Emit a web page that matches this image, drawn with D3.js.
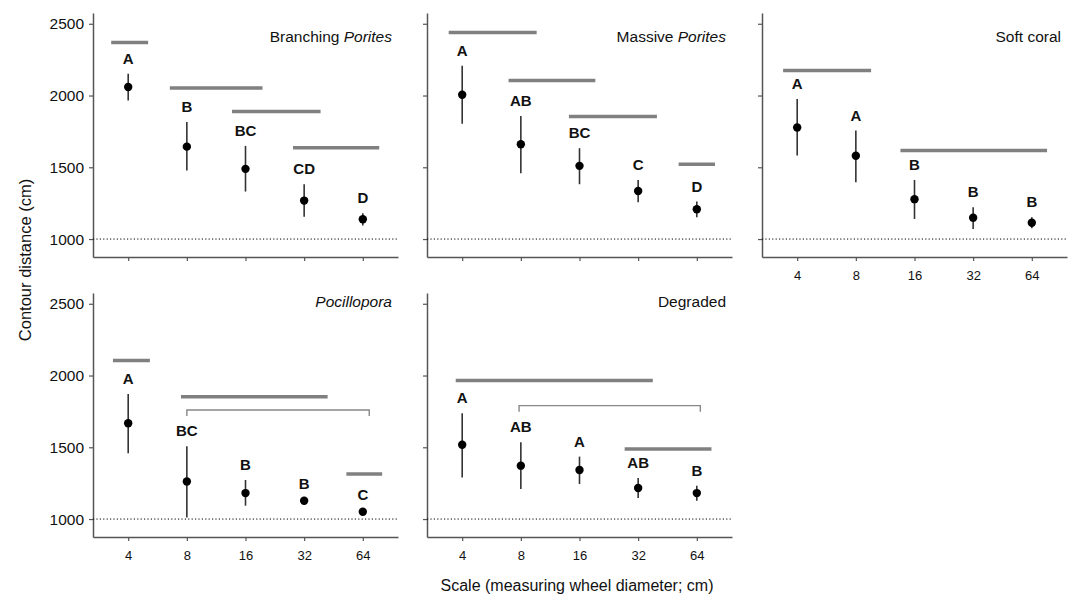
<!DOCTYPE html>
<html>
<head>
<meta charset="utf-8">
<script src="https://cdn.jsdelivr.net/npm/d3@7"></script>
<style>
  body { margin: 0; background: #fff; }
  svg { display: block; font-family: "Liberation Sans", Arial, sans-serif; }
</style>
</head>
<body>
<svg id="svg"></svg>
<script>
// scale categories (measuring wheel diameter)
let scaleLabels = ['4', '8', '16', '32', '64']
let yTicks = [1000, 1500, 2000, 2500]

// Branching Porites
let branchingMean = [2059, 1644, 1489, 1268, 1138]
let branchingLow = [1965, 1477, 1331, 1156, 1094]
let branchingHigh = [2151, 1815, 1649, 1382, 1180]
let branchingLetters = ['A', 'B', 'BC', 'CD', 'D']
let branchingBars = [[-0.29, 0.34, 2370], [0.71, 2.29, 2052], [1.77, 3.28, 1889], [2.81, 4.28, 1637]]

// Massive Porites
let massiveMean = [2005, 1661, 1510, 1335, 1208]
let massiveLow = [1803, 1459, 1382, 1257, 1152]
let massiveHigh = [2207, 1858, 1633, 1412, 1261]
let massiveLetters = ['A', 'AB', 'BC', 'C', 'D']
let massiveBars = [[-0.23, 1.27, 2440], [0.79, 2.27, 2105], [1.82, 3.32, 1854], [3.69, 4.31, 1522]]

// Soft coral
let softMean = [1777, 1580, 1278, 1149, 1114]
let softLow = [1582, 1396, 1140, 1070, 1075]
let softHigh = [1975, 1756, 1412, 1222, 1152]
let softLetters = ['A', 'A', 'B', 'B', 'B']
let softBars = [[-0.24, 1.26, 2175], [1.76, 4.26, 1617]]

// Pocillopora
let pociMean = [1667, 1262, 1181, 1128, 1051]
let pociLow = [1458, 1011, 1093, 1113, 1036]
let pociHigh = [1872, 1507, 1272, 1143, 1066]
let pociLetters = ['A', 'BC', 'B', 'B', 'C']
let pociBars = [[-0.26, 0.37, 2105], [0.9, 3.4, 1853], [3.72, 4.33, 1314]]
let pociBrackets = [[1.0, 4.11, 1760]]

// Degraded
let degMean = [1518, 1372, 1342, 1216, 1181]
let degLow = [1290, 1209, 1244, 1147, 1128]
let degHigh = [1737, 1535, 1435, 1286, 1232]
let degLetters = ['A', 'AB', 'A', 'AB', 'B']
let degBars = [[-0.11, 3.25, 1965], [2.77, 4.25, 1488]]
let degBrackets = [[0.97, 4.06, 1790]]

//panel table built from the arrays above
let panels = [
    { title: [['Branching ', false], ['Porites', true]], mean: branchingMean, low: branchingLow, high: branchingHigh, letters: branchingLetters, bars: branchingBars, brackets: [], col: 0, row: 0 },
    { title: [['Massive ', false], ['Porites', true]], mean: massiveMean, low: massiveLow, high: massiveHigh, letters: massiveLetters, bars: massiveBars, brackets: [], col: 1, row: 0 },
    { title: [['Soft coral', false]], mean: softMean, low: softLow, high: softHigh, letters: softLetters, bars: softBars, brackets: [], col: 2, row: 0 },
    { title: [['Pocillopora', true]], mean: pociMean, low: pociLow, high: pociHigh, letters: pociLetters, bars: pociBars, brackets: pociBrackets, col: 0, row: 1 },
    { title: [['Degraded', false]], mean: degMean, low: degLow, high: degHigh, letters: degLetters, bars: degBars, brackets: degBrackets, col: 1, row: 1 }
]

let W = 1077, H = 598
let colX = [93, 427, 762]
let panelW = 305
let rowShift = 280
let axisColor = '#555'

let svg = d3.select('#svg').attr('width', W).attr('height', H)
svg.append('rect').attr('width', W).attr('height', H).attr('fill', '#fff')

panels.forEach(p => {
    let x0 = colX[p.col]
    let off = p.row * rowShift
    let x = d3.scaleLinear().domain([-0.6, 4.6]).range([x0, x0 + panelW])
    let y = d3.scaleLinear().domain([875, 2575]).range([257 + off, 13 + off])
    let g = svg.append('g')
    let showX = p.row === 1 || p.col === 2
    let showY = p.col === 0

    //y axis
    let yAxis = d3.axisLeft(y).tickValues(yTicks).tickSize(4).tickSizeOuter(0).tickPadding(5)
        .tickFormat(d => showY ? d3.format('d')(d) : '')
    let yG = g.append('g').attr('transform', `translate(${x0},0)`).call(yAxis)

    //x axis
    let xAxis = d3.axisBottom(x).tickValues([0, 1, 2, 3, 4]).tickSize(4).tickSizeOuter(0).tickPadding(10)
        .tickFormat(i => showX ? scaleLabels[i] : '')
    let xG = g.append('g').attr('transform', `translate(0,${y.range()[0]})`).call(xAxis)

    ;[xG, yG].forEach(a => {
        a.select('.domain').attr('stroke', axisColor).attr('stroke-width', 1.5)
        a.selectAll('.tick line').attr('stroke', axisColor).attr('stroke-width', 1.2)
        a.selectAll('.tick text').attr('fill', '#111').attr('font-family', '"Liberation Sans", Arial, sans-serif')
    })
    yG.selectAll('.tick text').attr('font-size', 15.5)
    xG.selectAll('.tick text').attr('font-size', 13)

    //dotted reference line at 1000
    g.append('line')
        .attr('x1', x0).attr('x2', x0 + panelW)
        .attr('y1', y(1000)).attr('y2', y(1000))
        .attr('stroke', '#000').attr('stroke-width', 1)
        .attr('stroke-dasharray', '1.2,2.2')

    //homogeneous subset bars
    g.selectAll('.bar').data(p.bars).join('line')
        .attr('x1', d => x(d[0])).attr('x2', d => x(d[1]))
        .attr('y1', d => y(d[2])).attr('y2', d => y(d[2]))
        .attr('stroke', '#808080').attr('stroke-width', 3.5)

    //thin brackets
    g.selectAll('.bracket').data(p.brackets).join('path')
        .attr('d', d => `M${x(d[0])},${y(d[2]) + 6}V${y(d[2])}H${x(d[1])}V${y(d[2]) + 6}`)
        .attr('fill', 'none').attr('stroke', '#888').attr('stroke-width', 1.4)

    //error bars
    g.selectAll('.err').data(p.mean).join('line')
        .attr('x1', (d, i) => x(i)).attr('x2', (d, i) => x(i))
        .attr('y1', (d, i) => y(p.low[i])).attr('y2', (d, i) => y(p.high[i]))
        .attr('stroke', '#333').attr('stroke-width', 1.6)

    //means
    g.selectAll('circle').data(p.mean).join('circle')
        .attr('cx', (d, i) => x(i)).attr('cy', d => y(d))
        .attr('r', 4.2).attr('fill', '#000')

    //letters
    g.selectAll('.letter').data(p.letters).join('text')
        .attr('x', (d, i) => x(i)).attr('y', (d, i) => y(p.high[i]) - 10)
        .attr('text-anchor', 'middle').attr('font-size', 15).attr('font-weight', 'bold')
        .attr('fill', '#111')
        .text(d => d)

    //panel title
    let t = g.append('text')
        .attr('x', x0 + 299).attr('y', p.row === 0 ? 42 : 307)
        .attr('text-anchor', 'end').attr('font-size', 15.5).attr('fill', '#111')
    p.title.forEach(part => {
        t.append('tspan').attr('font-style', part[1] ? 'italic' : 'normal').text(part[0])
    })
})

//axis titles
svg.append('text')
    .attr('transform', 'translate(31,260) rotate(-90)')
    .attr('text-anchor', 'middle').attr('font-size', 16.5).attr('fill', '#111')
    .text('Contour distance (cm)')

svg.append('text')
    .attr('x', 577).attr('y', 591)
    .attr('text-anchor', 'middle').attr('font-size', 16).attr('fill', '#111')
    .text('Scale (measuring wheel diameter; cm)')
</script>
</body>
</html>
